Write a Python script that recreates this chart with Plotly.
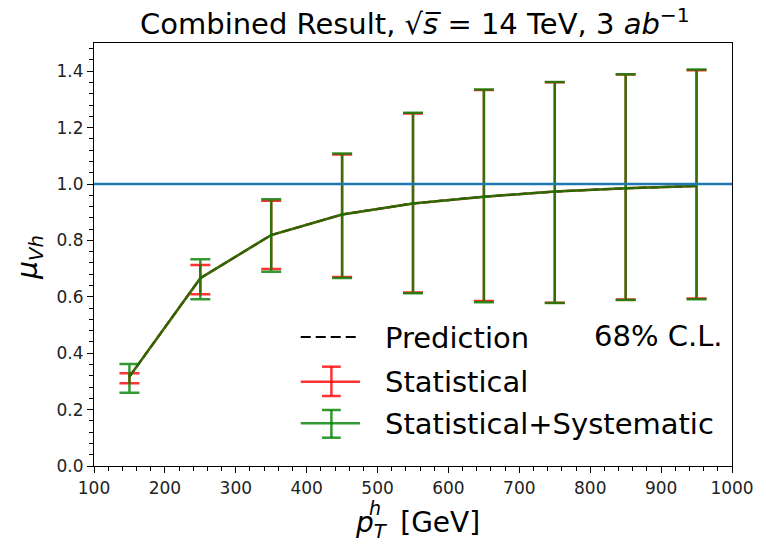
import plotly.graph_objects as go

# ---- data ----
pt = [150, 250, 350, 450, 550, 650, 750, 850, 950]
prediction = [0.317, 0.666, 0.819, 0.892, 0.931, 0.955, 0.973, 0.985, 0.993]
stat_hi = [0.329, 0.713, 0.941, 1.105, 1.250, 1.333, 1.361, 1.388, 1.403]
stat_lo = [0.293, 0.609, 0.699, 0.670, 0.615, 0.585, 0.579, 0.590, 0.594]
tot_hi = [0.362, 0.733, 0.946, 1.108, 1.253, 1.335, 1.362, 1.389, 1.406]
tot_lo = [0.260, 0.591, 0.689, 0.667, 0.613, 0.581, 0.578, 0.589, 0.591]
sm_ref = 1.0
x_ticks = [100, 200, 300, 400, 500, 600, 700, 800, 900, 1000]
y_ticks = [0.0, 0.2, 0.4, 0.6, 0.8, 1.0, 1.2, 1.4]

FONT = "DejaVu Sans"
RED = "rgba(255,0,0,0.8)"
GREEN = "rgba(0,128,0,0.8)"

FIG_W, FIG_H = 766, 547

fig = go.Figure()

# prediction (black dashed)
fig.add_trace(go.Scatter(x=pt, y=prediction, mode="lines",
                         line=dict(color="black", width=2, dash="8px,4px"),
                         showlegend=False, hoverinfo="skip"))

def errs(hi, lo, c):
    return [h - m for h, m in zip(hi, c)], [m - l for l, m in zip(lo, c)]

s_up, s_dn = errs(stat_hi, stat_lo, prediction)
t_up, t_dn = errs(tot_hi, tot_lo, prediction)

fig.add_trace(go.Scatter(x=pt, y=prediction, mode="lines",
                         line=dict(color=RED, width=2.5),
                         error_y=dict(type="data", symmetric=False, array=s_up, arrayminus=s_dn,
                                      color=RED, thickness=2.5, width=10),
                         showlegend=False))
fig.add_trace(go.Scatter(x=pt, y=prediction, mode="lines",
                         line=dict(color=GREEN, width=2.5),
                         error_y=dict(type="data", symmetric=False, array=t_up, arrayminus=t_dn,
                                      color=GREEN, thickness=2.5, width=10),
                         showlegend=False))

fig.add_hline(y=sm_ref, line=dict(color="#1f77b4", width=2.5), layer="above")

# plot area geometry (pixels)
L, R, T, B = 94, 739, 43, 466
W, H = R - L, B - T
def px(xp):
    return (xp - L) / W
def py(yp):
    return (B - yp) / H

# custom legend glyphs
shapes = []
shapes.append(dict(type="line", xref="paper", yref="paper", x0=px(303), x1=px(362), y0=py(337), y1=py(337),
                   line=dict(color="black", width=2, dash="10px,5px")))
for col, yc, y0, y1 in [(RED, 381.7, 366.7, 396), (GREEN, 423.3, 410, 437.7)]:
    shapes.append(dict(type="line", xref="paper", yref="paper", x0=px(303), x1=px(363), y0=py(yc), y1=py(yc),
                       line=dict(color=col, width=2.5)))
    shapes.append(dict(type="line", xref="paper", yref="paper", x0=px(334), x1=px(334), y0=py(y0), y1=py(y1),
                       line=dict(color=col, width=2.5)))
    for yy in (y0, y1):
        shapes.append(dict(type="line", xref="paper", yref="paper", x0=px(324.5), x1=px(343.5), y0=py(yy), y1=py(yy),
                           line=dict(color=col, width=2.5)))
for s in shapes:
    fig.add_shape(**s)

ann = []
def text(t, xp, yp, size=29, xanchor="left", angle=0):
    ann.append(dict(text=t, xref="paper", yref="paper", x=px(xp), y=py(yp), xanchor=xanchor,
                    yanchor="middle", showarrow=False, textangle=angle,
                    font=dict(family=FONT, size=size, color="black")))

text("Prediction", 386, 338)
text("Statistical", 386, 382)
text("Statistical+Systematic", 386, 424)
text("68% C.L.", 597, 336)
text("Combined Result, √<i>s\u0305</i> = 14 TeV, 3 <i>ab</i><sup>−1</sup>",
     419, 22, xanchor="center")
text("<i>μ</i><sub><i>Vh</i></sub>", 28, 257, size=28, xanchor="center", angle=-90)
text("<i>p</i><sub><i>T</i></sub>\u2009 [GeV]", 356, 524, size=28)
text("<i>h</i>", 370, 508, size=19)
for a in ann:
    fig.add_annotation(**a)

axis_common = dict(showline=True, linecolor="black", linewidth=1.2, mirror=True,
                   ticks="outside", ticklen=6, tickwidth=1.2, tickcolor="black",
                   showgrid=False, zeroline=False,
                   tickfont=dict(family=FONT, size=17, color="#222"))

fig.update_xaxes(range=[100, 1000], tickvals=x_ticks, ticktext=[str(v) for v in x_ticks],
                 minor=dict(dtick=20, tick0=100, ticks="outside", ticklen=3.5, tickwidth=1, tickcolor="black"),
                 **axis_common)
fig.update_yaxes(range=[0, 1.5], tickvals=y_ticks, ticktext=[f"{v:.1f}" for v in y_ticks],
                 minor=dict(dtick=0.04, tick0=0, ticks="outside", ticklen=3.5, tickwidth=1, tickcolor="black"),
                 **axis_common)

fig.update_layout(width=FIG_W, height=FIG_H,
                  margin=dict(l=L, r=FIG_W - R, t=T, b=FIG_H - B),
                  plot_bgcolor="white", paper_bgcolor="white", showlegend=False,
                  font=dict(family=FONT))

fig.write_html("out.html", config={"displayModeBar": False},
               post_script="document.body.style.margin='0px';document.documentElement.style.overflow='hidden';")
